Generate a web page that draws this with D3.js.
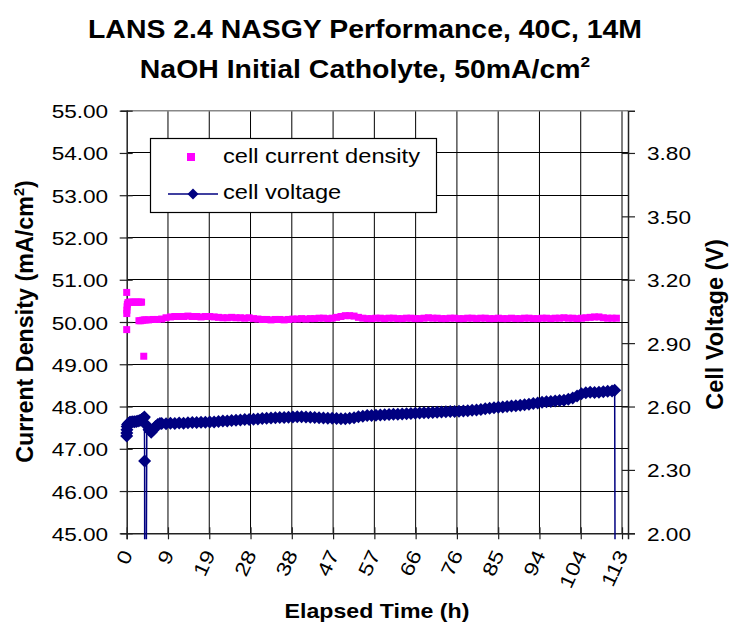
<!DOCTYPE html>
<html><head><meta charset="utf-8">
<script src="https://cdn.jsdelivr.net/npm/d3@7/dist/d3.min.js"></script>
<style>body{margin:0;background:#fff}svg{display:block;font-family:Arial,"Liberation Sans",sans-serif}</style>
</head><body><svg id="c" width="730" height="629"></svg>
<script>
// ---------------- DATA ----------------
const titleLine1 = "LANS 2.4 NASGY Performance, 40C, 14M";
const titleLine2 = "NaOH Initial Catholyte, 50mA/cm";
const titleSup = "2";
const xTitle = "Elapsed Time (h)";
const yLeftTitle = "Current Density (mA/cm";
const yRightTitle = "Cell Voltage (V)";
const seriesNames = ["cell current density", "cell voltage"];

const xDomain = [0, 114.65];
const xTicks = [0, 9.44, 18.88, 28.32, 37.76, 47.2, 56.64, 66.08, 75.52, 84.96, 94.4, 103.84, 113.28];
const xTickLabels = ["0","9","19","28","38","47","57","66","76","85","94","104","113"];
const leftDomain = [45, 55];
const leftTicks = [45,46,47,48,49,50,51,52,53,54,55];
const rightDomain = [2, 4];
const rightTicks = [2.0, 2.3, 2.6, 2.9, 3.2, 3.5, 3.8];

// current density: irregular early points, then hourly (t = 5..112)
const currEarlyTime  = [0, 0, 0.02, 0.05, 0.1, 0.15, 0.3, 0.7, 1.1, 1.5, 1.9, 2.3, 2.7, 3.1, 3.4, 2.8, 3.2, 3.6, 4.0, 4.4, 3.9];
const currEarlyValue = [50.70, 49.82, 50.20, 50.28, 50.36, 50.42, 50.46, 50.47, 50.47, 50.47, 50.47, 50.47, 50.47, 50.47, 50.47, 50.03, 50.03, 50.04, 50.05, 50.05, 49.19];
const currHourlyStart = 5;
const currHourlyValue = [
 50.05,50.06,50.06,50.07,50.10,50.12,50.13,50.13,
 50.13,50.14,50.13,50.13,50.12,50.13,50.13,50.12,
 50.11,50.10,50.10,50.11,50.10,50.10,50.09,50.10,
 50.08,50.07,50.06,50.06,50.05,50.06,50.06,50.05,
 50.06,50.07,50.07,50.08,50.07,50.08,50.08,50.09,
 50.09,50.08,50.09,50.11,50.13,50.15,50.15,50.14,
 50.11,50.09,50.08,50.08,50.09,50.09,50.08,50.09,
 50.09,50.08,50.08,50.09,50.09,50.08,50.08,50.09,
 50.10,50.09,50.09,50.08,50.08,50.09,50.09,50.08,
 50.08,50.09,50.09,50.08,50.09,50.09,50.08,50.08,
 50.09,50.08,50.08,50.09,50.08,50.08,50.09,50.09,
 50.08,50.08,50.09,50.09,50.08,50.09,50.09,50.10,
 50.09,50.09,50.08,50.09,50.10,50.11,50.12,50.12,
 50.10,50.09,50.09,50.09];

// cell voltage: irregular early points, hourly (t = 8..111), then the final points
const voltEarlyTime  = [0, 0.03, 0.06, 0.1, 0.2, 0.4, 0.7, 1.0, 1.4, 1.8, 2.2, 2.6, 3.0, 3.4, 3.8, 4.05, 4.1, 4.15, 4.6, 5.1, 5.6, 6.1, 6.6, 7.1, 7.6];
const voltEarlyValue = [2.460, 2.475, 2.490, 2.505, 2.515, 2.520, 2.525, 2.527, 2.528, 2.528, 2.529, 2.531, 2.534, 2.538, 2.545, 2.550, 2.342, 0, 2.510, 2.490, 2.478, 2.490, 2.505, 2.515, 2.520];
const voltHourlyStart = 8;
const voltHourlyValue = [
 2.520,2.519,2.521,2.520,2.522,2.521,2.523,2.524,
 2.524,2.525,2.526,2.527,2.527,2.529,2.531,2.532,
 2.534,2.535,2.536,2.538,2.539,2.540,2.541,2.543,
 2.545,2.546,2.547,2.548,2.548,2.549,2.550,2.551,
 2.551,2.550,2.549,2.548,2.547,2.546,2.545,2.544,
 2.543,2.542,2.542,2.544,2.547,2.551,2.554,2.557,
 2.558,2.559,2.560,2.561,2.562,2.563,2.564,2.565,
 2.566,2.567,2.568,2.569,2.570,2.571,2.572,2.573,
 2.574,2.575,2.576,2.577,2.578,2.579,2.580,2.582,
 2.584,2.586,2.589,2.592,2.594,2.596,2.598,2.600,
 2.602,2.604,2.606,2.608,2.611,2.614,2.617,2.620,
 2.622,2.624,2.626,2.628,2.630,2.634,2.640,2.650,
 2.660,2.665,2.667,2.666,2.668,2.670,2.672,2.674];
const voltLateTime  = [111.6, 111.9];
const voltLateValue = [2.677, 0];

// ---------------- BUILD ----------------
const curr = currEarlyTime.map((t,i)=>({t, v:currEarlyValue[i]}))
  .concat(currHourlyValue.map((v,i)=>({t:currHourlyStart+i, v})));
const volt = voltEarlyTime.map((t,i)=>({t, v:voltEarlyValue[i]}))
  .concat(voltHourlyValue.map((v,i)=>({t:voltHourlyStart+i, v})))
  .concat(voltLateTime.map((t,i)=>({t, v:voltLateValue[i]})));

const svg = d3.select("#c");
const m = {left:126.7, right:628, top:110.7, bottom:533.3};
const SX = 1.19;
const PINK = "#FF00FF", NAVY = "#000080";

const x = d3.scaleLinear().domain(xDomain).range([m.left, m.right]);
const yL = d3.scaleLinear().domain(leftDomain).range([m.bottom, m.top]);
const yR = d3.scaleLinear().domain(rightDomain).range([m.bottom, m.top]);

// gridlines
const grid = svg.append("g");
grid.selectAll("line.h").data(leftTicks.filter(d=>d>leftDomain[0] && d<leftDomain[1])).join("line")
  .attr("x1", m.left).attr("x2", m.right).attr("y1", d=>yL(d)).attr("y2", d=>yL(d))
  .attr("stroke", "#000").attr("stroke-width", 1).attr("shape-rendering","crispEdges");
grid.selectAll("line.v").data(xTicks.filter(d=>d>0)).join("line")
  .attr("x1", d=>x(d)).attr("x2", d=>x(d)).attr("y1", m.top).attr("y2", m.bottom)
  .attr("stroke", "#000").attr("stroke-width", 1);
// top border
svg.append("line").attr("x1", m.left).attr("x2", m.right).attr("y1", m.top).attr("y2", m.top)
  .attr("stroke", "#888").attr("stroke-width", 1.5);

function styleAxis(g){
  g.select(".domain").attr("stroke", "#222").attr("stroke-width", 1.5);
  g.selectAll(".tick line").attr("stroke", "#222").attr("stroke-width", 1.2);
  g.selectAll(".tick text").attr("fill", "#000").attr("font-size", 19)
    .attr("font-family", "Arial, 'Liberation Sans', sans-serif");
}

// left axis
const gL = svg.append("g").attr("transform", `translate(${m.left},0)`)
  .call(d3.axisLeft(yL).tickValues(leftTicks).tickFormat(d3.format(".2f")).tickSizeOuter(0).tickSize(6));
styleAxis(gL);
gL.selectAll(".tick line").attr("x1", 6).attr("x2", -7);
gL.selectAll(".tick text").attr("x", null).attr("dy", null).attr("text-anchor", "end")
  .attr("transform", `translate(-18.5,7) scale(${SX},1)`);

// right axis
const gR = svg.append("g").attr("transform", `translate(${m.right},0)`)
  .call(d3.axisRight(yR).tickValues(rightTicks).tickFormat(d3.format(".2f")).tickSizeOuter(0).tickSize(7));
styleAxis(gR);
gR.selectAll(".tick line").attr("x1", -6).attr("x2", 7);
gR.selectAll(".tick text").attr("x", null).attr("dy", null).attr("text-anchor", "start")
  .attr("transform", `translate(19,7) scale(${SX},1)`);

// bottom axis
const gB = svg.append("g").attr("transform", `translate(0,${m.bottom})`)
  .call(d3.axisBottom(x).tickValues(xTicks).tickFormat((d,i)=>xTickLabels[i]).tickSizeOuter(0).tickSize(6));
styleAxis(gB);
gB.selectAll(".tick line").attr("y1", -6).attr("y2", 6);
gB.selectAll(".tick text").attr("y", null).attr("dy", null).attr("text-anchor", "end")
  .attr("font-size", 19.5)
  .attr("transform", `translate(6,21) rotate(-65) scale(1.2,1)`);

// clip for the line
svg.append("clipPath").attr("id", "clipL").append("rect")
  .attr("x", m.left - 10).attr("y", m.top).attr("width", m.right - m.left + 10).attr("height", m.bottom - m.top + 6);

// current density markers
svg.append("g").selectAll("rect").data(curr).join("rect")
  .attr("x", d=>x(d.t)-3.5).attr("y", d=>yL(d.v)-3.5).attr("width", 7).attr("height", 7)
  .attr("fill", PINK);

// voltage line + diamonds
svg.append("path").datum(volt).attr("clip-path", "url(#clipL)")
  .attr("d", d3.line().x(d=>x(d.t)).y(d=>yR(d.v)))
  .attr("fill", "none").attr("stroke", NAVY).attr("stroke-width", 1.5);
const diamond = "M0,-6.5L6.5,0L0,6.5L-6.5,0Z";
svg.append("g").selectAll("path").data(volt.filter(d=>d.v>=rightDomain[0])).join("path")
  .attr("d", diamond).attr("transform", d=>`translate(${x(d.t)},${yR(d.v)})`)
  .attr("fill", NAVY);

// titles
function hText(px, py, size, weight, anchor, sx){
  return svg.append("text").attr("transform", `translate(${px},${py}) scale(${sx||SX},1)`)
    .attr("font-size", size).attr("font-weight", weight).attr("text-anchor", anchor).attr("fill", "#000");
}
hText(365, 38, 25.5, "bold", "middle", 1.115).text(titleLine1);
const t2 = hText(365, 78, 25.5, "bold", "middle", 1.115);
t2.append("tspan").text(titleLine2);
t2.append("tspan").attr("font-size", 15.5).attr("dy", -11).text(titleSup);

hText(377, 618, 20.5, "bold", "middle", 1.13).text(xTitle);

const yl = svg.append("text").attr("transform", "translate(33,321.5) rotate(-90)")
  .attr("font-size", 23.3).attr("font-weight", "bold").attr("text-anchor", "middle");
yl.append("tspan").text(yLeftTitle);
yl.append("tspan").attr("font-size", 14.5).attr("dy", -9).text("2");
yl.append("tspan").attr("dy", 9).text(")");

svg.append("text").attr("transform", "translate(723,324.5) rotate(-90)")
  .attr("font-size", 23.5).attr("font-weight", "bold").attr("text-anchor", "middle").text(yRightTitle);

// legend
const lg = svg.append("g");
lg.append("rect").attr("x", 150.5).attr("y", 138.5).attr("width", 286).attr("height", 74)
  .attr("fill", "#fff").attr("stroke", "#000").attr("stroke-width", 1.2);
lg.append("rect").attr("x", 187).attr("y", 153).attr("width", 8).attr("height", 8).attr("fill", PINK);
lg.append("line").attr("x1", 168).attr("x2", 218).attr("y1", 194).attr("y2", 194)
  .attr("stroke", NAVY).attr("stroke-width", 1.5);
lg.append("path").attr("d", "M0,-5.5L5.5,0L0,5.5L-5.5,0Z").attr("transform", "translate(193,194)").attr("fill", NAVY);
hText(223, 163, 20.3, "normal", "start", 1.165).text(seriesNames[0]);
hText(223, 198.5, 20.3, "normal", "start", 1.165).text(seriesNames[1]);
</script>
</body></html>
